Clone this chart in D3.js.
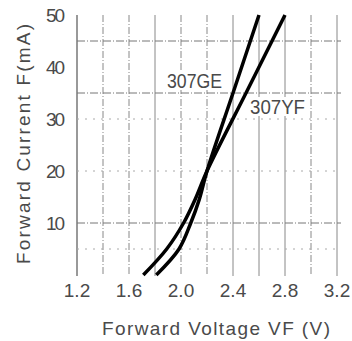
<!DOCTYPE html>
<html>
<head>
<meta charset="utf-8">
<script src="https://cdn.jsdelivr.net/npm/d3@7"></script>
<style>
  body { margin: 0; background: #fff; }
  svg { display: block; }
  text { font-family: "Liberation Sans Narrow", "Liberation Sans", Arial, sans-serif; fill: #4a4a4a; }
</style>
</head>
<body>
<svg id="chart" width="352" height="341"></svg>
<script>
// forward voltage (V) vs forward current (mA)
const geVolts = [1.81, 1.985, 2.075, 2.14, 2.2, 2.4, 2.6];
const geAmps  = [0, 5, 10, 14.5, 20, 35, 50];
const yfVolts = [1.71, 1.89, 2.02, 2.11, 2.2, 2.5, 2.8];
const yfAmps  = [0, 5, 10, 14.6, 20, 35, 50];

const xTicks = [1.2, 1.6, 2.0, 2.4, 2.8, 3.2];
const yTicks = [10, 20, 30, 40, 50];
const xGrid = [1.2, 1.4, 1.6, 1.8, 2.0, 2.2, 2.4, 2.6, 2.8, 3.0, 3.2];
const yGrid = [5, 10, 20, 30, 35, 45];

const svg = d3.select("#chart");
const x = d3.scaleLinear().domain([1.2, 3.2]).range([77, 337]);
const y = d3.scaleLinear().domain([0, 50]).range([275, 15]);

// grid - scanned look, some lines solid some broken
const solidX = [1.2, 1.8, 2.4, 2.6, 2.8, 3.2];
svg.append("g").selectAll("line")
    .data(xGrid)
    .enter().append("line")
    .attr("x1", d => x(d)).attr("x2", d => x(d))
    .attr("y1", y(50)).attr("y2", y(0) + 1)
    .attr("stroke", d => d === 1.2 ? "#555" : "#888")
    .attr("stroke-width", d => d === 1.2 ? 1.2 : 1)
    .attr("stroke-dasharray", d => solidX.includes(d) ? null : "7,2,1,2");

const faintY = [5, 20, 30];
svg.append("g").selectAll("line")
    .data(yGrid)
    .enter().append("line")
    .attr("x1", x(1.2)).attr("x2", x(3.2) + 4)
    .attr("y1", d => y(d)).attr("y2", d => y(d))
    .attr("stroke", d => faintY.includes(d) ? "#aaa" : "#777")
    .attr("stroke-width", 1)
    .attr("stroke-dasharray", d => faintY.includes(d) ? "2,6" : "8,2,1,2");

// tick labels
svg.append("g").selectAll("text")
    .data(xTicks)
    .enter().append("text")
    .attr("x", d => x(d))
    .attr("y", 297)
    .attr("text-anchor", "middle")
    .attr("font-size", 19)
    .text(d => d.toFixed(1));

svg.append("g").selectAll("text")
    .data(yTicks)
    .enter().append("text")
    .attr("x", 65)
    .attr("y", d => y(d) + 7)
    .attr("text-anchor", "end")
    .attr("font-size", 19)
    .attr("textLength", 19)
    .attr("lengthAdjust", "spacing")
    .text(d => d);

// axis titles
svg.append("text")
    .attr("x", 102)
    .attr("y", 335)
    .attr("font-size", 19)
    .attr("textLength", 228)
    .attr("lengthAdjust", "spacing")
    .text("Forward Voltage VF (V)");

svg.append("text")
    .attr("transform", "translate(30,264) rotate(-90)")
    .attr("font-size", 19)
    .attr("textLength", 240)
    .attr("lengthAdjust", "spacing")
    .text("Forward Current  F(mA)");

// curves
const line = d3.line()
    .x(d => x(d[0]))
    .y(d => y(d[1]))
    .curve(d3.curveCatmullRom.alpha(0.5));

[d3.zip(geVolts, geAmps), d3.zip(yfVolts, yfAmps)].forEach(pts => {
    svg.append("path")
        .attr("d", line(pts))
        .attr("fill", "none")
        .attr("stroke", "#000")
        .attr("stroke-width", 3.5);
});

// curve labels with white box behind
function label(txt, lx, ly) {
    const t = svg.append("text")
        .attr("x", lx).attr("y", ly)
        .attr("font-size", 21)
        .attr("textLength", 55)
        .attr("lengthAdjust", "spacingAndGlyphs")
        .text(txt);
    const b = t.node().getBBox();
    svg.insert("rect", () => t.node())
        .attr("x", b.x - 1).attr("y", b.y + 2)
        .attr("width", b.width + 2).attr("height", b.height - 4)
        .attr("fill", "#fff");
}
label("307GE", 167, 88);
label("307YF", 250, 114);
</script>
</body>
</html>
